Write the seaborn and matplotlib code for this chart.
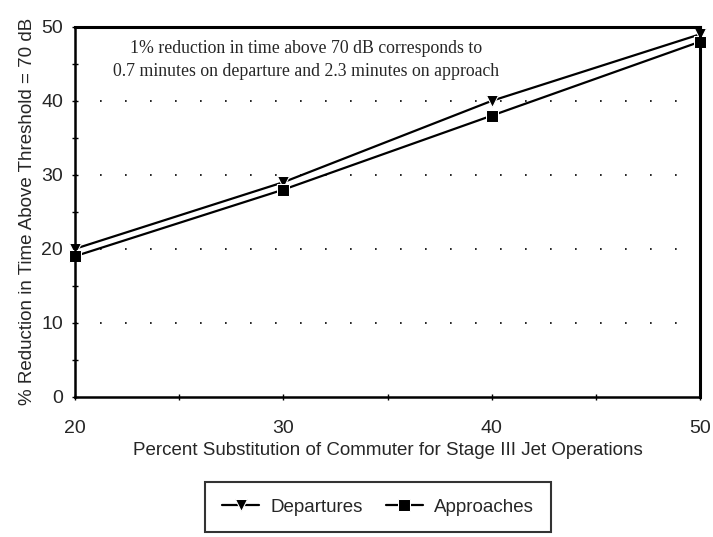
import seaborn as sns
import matplotlib.pyplot as plt
import pandas as pd
from matplotlib.ticker import MultipleLocator

##-----Data-----##
substitution = [20, 30, 40, 50]
departures = [20, 29, 40, 49]
approaches = [19, 28, 38, 48]

df = pd.DataFrame({
    'pct': substitution * 2,
    'reduction': departures + approaches,
    'series': ['Departures'] * 4 + ['Approaches'] * 4,
})

sns.set_style('white')
plt.rcParams['font.family'] = ['Liberation Sans', 'DejaVu Sans']

fig = plt.figure(figsize=(7.13, 5.37), dpi=100)
ax = fig.add_axes([0.105, 0.261, 0.877, 0.689])

sns.lineplot(data=df, x='pct', y='reduction', hue='series', style='series',
             markers={'Departures': 'v', 'Approaches': 's'}, dashes=False,
             palette={'Departures': 'black', 'Approaches': 'black'},
             markersize=8, linewidth=1.6, ax=ax, legend=True, clip_on=False)

ax.set_xlim(20, 50)
ax.set_ylim(0, 50)
ax.xaxis.set_major_locator(MultipleLocator(10))
ax.xaxis.set_minor_locator(MultipleLocator(5))
ax.yaxis.set_major_locator(MultipleLocator(10))
ax.yaxis.set_minor_locator(MultipleLocator(5))
ax.tick_params(which='both', direction='inout', length=5, width=1, color='black',
               bottom=True, left=True)
ax.tick_params(axis='x', pad=14)
ax.tick_params(axis='y', pad=6)
ax.tick_params(labelsize=14)

# dotted horizontal gridlines
for yv in [10, 20, 30, 40]:
    ax.axhline(yv, color='black', linestyle=(0, (1, 14)), linewidth=1.2, zorder=0)

for side in ['left', 'bottom']:
    ax.spines[side].set_linewidth(1.8)
for side in ['top', 'right']:
    ax.spines[side].set_linewidth(2.2)
for s in ax.spines.values():
    s.set_color('black')

ax.set_xlabel('Percent Substitution of Commuter for Stage III Jet Operations',
              fontsize=13.5, labelpad=4)
ax.set_ylabel('% Reduction in Time Above Threshold = 70 dB', fontsize=13.5, labelpad=4)

ax.text(0.37, 0.965, '1% reduction in time above 70 dB corresponds to\n'
        '0.7 minutes on departure and 2.3 minutes on approach',
        transform=ax.transAxes, ha='center', va='top', fontsize=12.8,
        family='Liberation Serif', linespacing=1.5)

handles, labels = ax.get_legend_handles_labels()
ax.get_legend().remove()
leg = fig.legend(handles, labels, loc='center', bbox_to_anchor=(378 / 713, 1 - 507 / 537),
                 ncol=2, frameon=True, fancybox=False, fontsize=13.5,
                 handlelength=2.0, borderpad=0.9, columnspacing=1.2, handletextpad=0.6)
leg.get_frame().set_edgecolor('black')
leg.get_frame().set_linewidth(1.5)

fig.savefig('out.png', dpi=100)
